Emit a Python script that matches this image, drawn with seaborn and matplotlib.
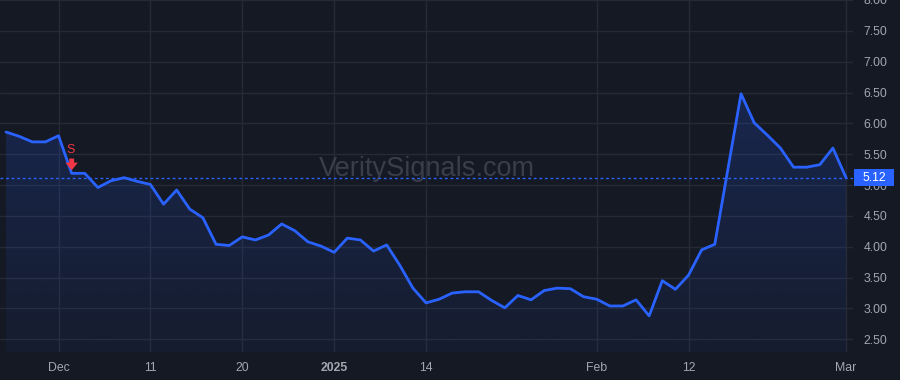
import numpy as np
import pandas as pd
import matplotlib
matplotlib.use("Agg")
import matplotlib.pyplot as plt
import matplotlib.transforms as mtransforms
from matplotlib.patches import Rectangle
import seaborn as sns

# ---- data (daily closes, trading days 25 Nov 2024 -> 3 Mar 2025) ----
values = [5.86, 5.79, 5.70, 5.70, 5.80, 5.19, 5.19, 4.96, 5.07, 5.12,
          5.06, 5.01, 4.69, 4.92, 4.61, 4.47, 4.04, 4.02, 4.16, 4.11,
          4.19, 4.37, 4.26, 4.08, 4.01, 3.91, 4.14, 4.11, 3.93, 4.03,
          3.70, 3.33, 3.09, 3.15, 3.25, 3.27, 3.27, 3.13, 3.01, 3.21,
          3.14, 3.29, 3.33, 3.32, 3.19, 3.15, 3.04, 3.04, 3.14, 2.88,
          3.45, 3.31, 3.54, 3.95, 4.04, 5.26, 6.48, 6.01, 5.81, 5.60,
          5.29, 5.29, 5.33, 5.60, 5.12]
x_tick_pos = [4, 11, 18, 25, 32, 45, 52, 64]
x_tick_labels = ["Dec", "11", "20", "2025", "14", "Feb", "12", "Mar"]
y_ticks = [2.50, 3.00, 3.50, 4.00, 4.50, 5.00, 5.50, 6.00, 6.50, 7.00, 7.50, 8.00]
last_price = 5.12
signal_index = 5
signal_label = "S"
watermark = "VeritySignals.com"

df = pd.DataFrame({"i": np.arange(len(values)), "price": values})

BG = "#151924"
GRID = "#252a36"
TXT = "#a3a6af"
BLUE = "#2962ff"
RED = "#f23645"

sns.set_style("dark")
plt.rcParams["font.family"] = ["Liberation Sans", "DejaVu Sans"]

fig = plt.figure(figsize=(9, 3.8), dpi=100, facecolor=BG)
ax = fig.add_axes([0, 1 - 352 / 380, 853 / 900, 352 / 380])
ax.set_facecolor(BG)

xmin, xmax = -0.46, 64.53
ymin, ymax = 2.294, 8.0

# watermark
ax.text(0.5, 0.52, watermark, transform=ax.transAxes, ha="center", va="center",
        fontsize=19.5, color="#3a3e4a", zorder=1)

# gradient fill under the line
poly = ax.fill_between(df["i"], df["price"], ymin, color="none", lw=0)
grad = np.zeros((256, 1, 4))
grad[:, 0, 0] = 41 / 255
grad[:, 0, 1] = 98 / 255
grad[:, 0, 2] = 255 / 255
grad[:, 0, 3] = np.linspace(0.05, 0.24, 256)
im = ax.imshow(grad, extent=[xmin, xmax, ymin, ymax], aspect="auto",
               origin="lower", zorder=2)
im.set_clip_path(poly.get_paths()[0], transform=ax.transData)

sns.lineplot(data=df, x="i", y="price", ax=ax, color=BLUE, lw=2.0, zorder=4)

# last price dotted line
ax.axhline(last_price, color=BLUE, lw=1.0, ls=(0, (2, 2)), zorder=3)

# sell signal
sy = values[signal_index]
ax.text(signal_index - 0.05, sy + 0.38, signal_label, color=RED, fontsize=9,
        ha="center", va="center", zorder=5)
ax.annotate("", xy=(signal_index, sy + 0.05), xytext=(signal_index, sy + 0.24),
            arrowprops=dict(arrowstyle="simple,head_width=0.9,head_length=0.55,tail_width=0.35",
                            color=RED, lw=0, shrinkA=0, shrinkB=0, mutation_scale=10),
            zorder=5)

ax.set_xlim(xmin, xmax)
ax.set_ylim(ymin, ymax)
ax.set_xticks(x_tick_pos)
ax.set_xticklabels(x_tick_labels)
for lbl in ax.get_xticklabels():
    if lbl.get_text() == "2025":
        lbl.set_fontweight("bold")
ax.set_yticks(y_ticks)
ax.set_yticklabels([f"{v:.2f}" for v in y_ticks])
ax.yaxis.tick_right()
ax.tick_params(axis="both", length=0, colors=TXT, labelsize=8.8)
ax.tick_params(axis="y", pad=7.5)
ax.tick_params(axis="x", pad=7)
ax.grid(True, color=GRID, lw=1)
ax.set_xlabel("")
ax.set_ylabel("")
for s in ax.spines.values():
    s.set_visible(False)

# last price label box
trans = mtransforms.blended_transform_factory(ax.transAxes, ax.transData)
h = 17 / 61.69
ax.add_patch(Rectangle((854 / 853, last_price - h / 2), 40 / 853, h,
                       transform=trans, facecolor=BLUE, edgecolor="none",
                       clip_on=False, zorder=6))
ax.text(874 / 853, last_price, f"{last_price:.2f}", transform=trans, ha="center",
        va="center", color="white", fontsize=8.8, zorder=7, clip_on=False)

fig.savefig("out.png", dpi=100, facecolor=BG)
